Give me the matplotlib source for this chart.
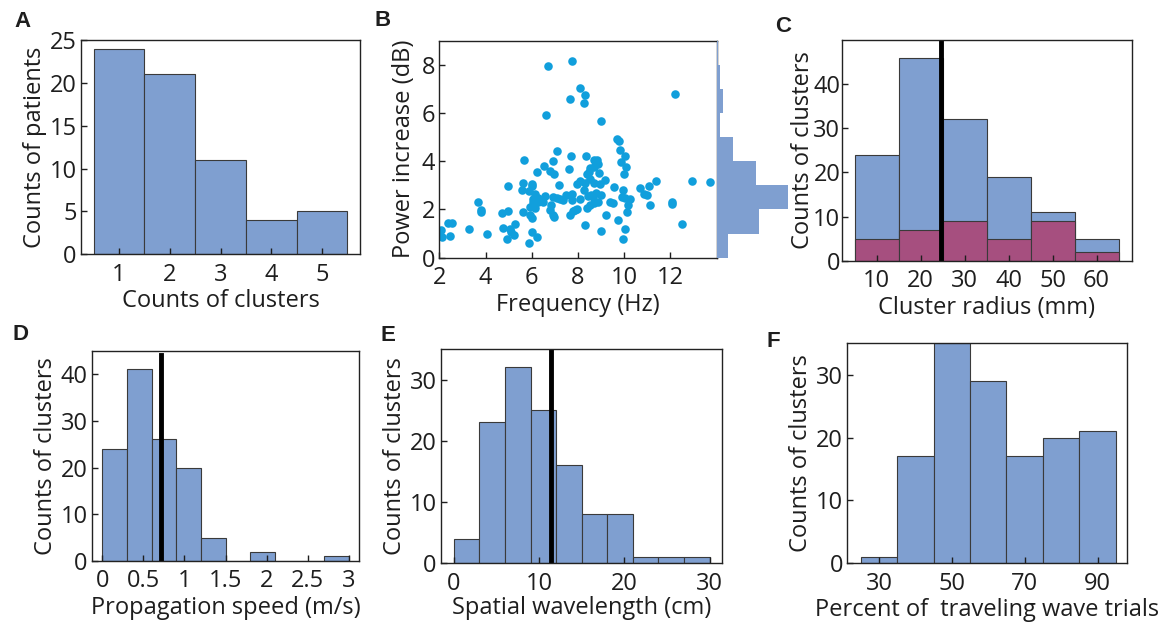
import numpy as np
import matplotlib
matplotlib.use("Agg")
import matplotlib.pyplot as plt

plt.rcParams['font.family'] = ['Open Sans', 'DejaVu Sans']
plt.rcParams['font.size'] = 17
plt.rcParams['text.color'] = '#1e1e1e'
plt.rcParams['axes.labelcolor'] = '#1e1e1e'
plt.rcParams['xtick.color'] = '#1e1e1e'
plt.rcParams['ytick.color'] = '#1e1e1e'

# ---- data ----
# A
a_clusters = [1, 2, 3, 4, 5]
a_patients = [24, 21, 11, 4, 5]

# B  (frequency Hz, power increase dB)
b_freq = [2.13, 2.46, 4.05, 4.92, 5.24, 5.90, 6.22, 9.93,
          2.07, 2.36, 2.53, 3.29, 3.79, 3.80, 4.73, 4.75, 4.96, 5.08, 5.28, 5.10,
          5.62, 5.93, 6.00, 6.03, 6.94, 6.80, 6.97, 7.66, 7.77, 7.85, 8.29, 8.99,
          9.21, 9.72, 10.05, 10.12, 12.48,
          3.66, 4.96, 5.57, 5.90, 6.00, 6.15, 6.07, 6.29, 6.48, 5.93, 6.15, 6.05,
          6.25, 6.58, 6.92, 6.83, 7.23, 7.10, 7.36, 7.49, 7.74, 7.74, 7.95, 8.10,
          8.24, 8.45, 8.55, 8.65, 8.50, 8.70, 8.85, 8.40, 8.78, 9.00, 9.40, 9.52,
          9.93, 9.90, 10.02, 10.27, 10.17, 10.70, 10.84, 10.99, 11.13, 12.07, 12.07,
          11.06, 9.54,
          5.64, 6.02, 6.22, 6.55, 6.80, 6.97, 7.16, 7.59, 7.96, 8.10, 8.39, 8.32,
          8.46, 8.53, 8.53, 8.68, 8.68, 8.89, 8.97, 9.18, 9.98, 10.09, 9.88, 11.38,
          12.91, 13.73, 8.85,
          5.68, 6.94, 7.11, 7.70, 8.36, 8.68, 8.82, 9.69, 9.76, 9.80, 10.05,
          6.61, 9.00, 7.66, 8.32, 8.27, 12.19, 6.70, 8.10, 7.74]
b_power = [0.87, 0.90, 0.97, 0.77, 0.94, 0.60, 0.84, 0.77,
           1.14, 1.42, 1.42, 1.21, 1.99, 1.88, 1.86, 1.24, 1.94, 1.17, 1.39, 1.05,
           1.90, 1.77, 1.63, 1.08, 1.77, 1.97, 1.70, 1.77, 1.93, 1.97, 1.35, 1.12,
           1.77, 1.56, 1.19, 1.90, 1.38,
           2.32, 2.97, 2.80, 2.76, 2.98, 2.66, 2.29, 2.29, 2.29, 2.11, 2.07, 2.45,
           2.48, 2.55, 2.52, 2.18, 2.43, 2.46, 2.39, 2.59, 2.66, 2.39, 2.04, 2.43,
           2.80, 2.55, 2.62, 2.50, 2.20, 2.25, 2.30, 2.05, 2.70, 2.60, 2.30, 2.28,
           2.80, 2.50, 2.47, 2.43, 2.18, 2.91, 2.66, 2.59, 2.18, 2.33, 2.22,
           2.98, 2.94,
           3.08, 3.06, 3.56, 3.81, 3.60, 3.46, 3.01, 3.67, 3.04, 3.17, 3.49, 3.08,
           3.56, 3.70, 3.28, 3.77, 3.08, 3.53, 3.05, 3.21, 3.49, 3.77, 3.97, 3.17,
           3.17, 3.14, 3.87,
           4.06, 4.01, 4.41, 4.21, 4.22, 4.04, 4.07, 4.94, 4.84, 4.46, 4.22,
           5.90, 5.68, 6.58, 6.76, 6.41, 6.77, 7.97, 7.05, 8.15]
b_power_bins = [0, 1, 2, 3, 4, 5, 6, 7, 8, 9]

# C
c_edges = [5, 15, 25, 35, 45, 55, 65]
c_all = [24, 46, 32, 19, 11, 5]
c_sub = [5, 7, 9, 5, 9, 2]
c_median = 24.5

# D
d_edges = [0, 0.3, 0.6, 0.9, 1.2, 1.5, 1.8, 2.1, 2.4, 2.7, 3.0]
d_counts = [24, 41, 26, 20, 5, 0, 2, 0, 0, 1]
d_median = 0.71

# E
e_edges = [0, 3, 6, 9, 12, 15, 18, 21, 24, 27, 30]
e_counts = [4, 23, 32, 25, 16, 8, 8, 1, 1, 1]
e_median = 11.4

# F
f_edges = [25, 35, 45, 55, 65, 75, 85, 95]
f_counts = [1, 17, 35, 29, 17, 20, 21]

BLUE = '#7f9fd0'
RED = '#a64f7f'
DOT = '#119fdc'
EDGE = '#3a3a3a'

W, H = 1160, 629
fig = plt.figure(figsize=(W / 100, H / 100), dpi=100)


def px_axes(l, t, r, b):
    return fig.add_axes([l / W, 1 - b / H, (r - l) / W, (b - t) / H])


def style(ax):
    for s in ax.spines.values():
        s.set_linewidth(1.0)
        s.set_color('#222222')
    ax.tick_params(direction='in', length=4, width=1, top=False, right=False)
    ax.tick_params(axis='x', pad=6)
    ax.tick_params(axis='y', pad=3)


def bars(ax, edges, counts, color=BLUE):
    edges = np.array(edges, dtype=float)
    ax.bar(edges[:-1], counts, width=np.diff(edges), align='edge',
           color=color, edgecolor=EDGE, linewidth=0.8)


def letter(x, y, s):
    fig.text(x / W, 1 - y / H, s, fontsize=16, fontweight='bold',
             family=['Liberation Sans', 'DejaVu Sans'])


# ---- A ----
ax = px_axes(81, 40, 360, 254.3)
ax.bar(a_clusters, a_patients, width=1.0, color=BLUE, edgecolor=EDGE, linewidth=0.8)
ax.set_xlim(0.25, 5.75)
ax.set_ylim(0, 25)
ax.set_xticks(a_clusters)
ax.set_yticks([0, 5, 10, 15, 20, 25])
ax.set_xlabel('Counts of clusters', labelpad=2)
ax.set_ylabel('Counts of patients', labelpad=2)
style(ax)
letter(14, 27, 'A')

# ---- B ----
ax = px_axes(439.3, 40.7, 716.7, 257.7)
ax.scatter(b_freq, b_power, s=38, color=DOT, linewidths=0)
ax.set_xlim(2, 14)
ax.set_ylim(0, 9)
ax.set_xticks([2, 4, 6, 8, 10, 12])
ax.set_yticks([0, 2, 4, 6, 8])
ax.set_xlabel('Frequency (Hz)', labelpad=2)
ax.set_ylabel('Power increase (dB)', labelpad=4)
style(ax)
letter(375, 26, 'B')

hx = px_axes(716.7, 40.7, 788, 257.7)
cnt, _, _ = hx.hist(b_power, bins=b_power_bins, orientation='horizontal',
                    color=BLUE, edgecolor='none')
hx.set_xlim(0, cnt.max())
hx.set_ylim(0, 9)
hx.axis('off')

# ---- C ----
ax = px_axes(841.7, 40, 1131.7, 260.7)
bars(ax, c_edges, c_all)
bars(ax, c_edges, c_sub, RED)
ax.axvline(c_median, color='black', linewidth=3.5)
ax.set_xlim(2, 68)
ax.set_ylim(0, 50)
ax.set_xticks([10, 20, 30, 40, 50, 60])
ax.set_yticks([0, 10, 20, 30, 40])
ax.set_xlabel('Cluster radius (mm)', labelpad=2)
ax.set_ylabel('Counts of clusters', labelpad=-1)
style(ax)
ax.tick_params(axis='y', pad=1)
letter(775, 32, 'C')

# ---- D ----
ax = px_axes(91.7, 350.7, 359.3, 561)
bars(ax, d_edges, d_counts)
ax.plot([d_median, d_median], [0, 44], color='black', linewidth=3.5)
ax.set_xlim(-0.13, 3.13)
ax.set_ylim(0, 45)
ax.set_xticks([0, 0.5, 1, 1.5, 2, 2.5, 3])
ax.set_xticklabels(['0', '0.5', '1', '1.5', '2', '2.5', '3'])
ax.set_yticks([0, 10, 20, 30, 40])
ax.set_xlabel('Propagation speed (m/s)', labelpad=2)
ax.set_ylabel('Counts of clusters', labelpad=2)
style(ax)
letter(13, 340, 'D')

# ---- E ----
ax = px_axes(441, 349, 722.3, 563.3)
bars(ax, e_edges, e_counts)
ax.axvline(e_median, color='black', linewidth=3.5)
ax.set_xlim(-1.5, 31.5)
ax.set_ylim(0, 35)
ax.set_xticks([0, 10, 20, 30])
ax.set_yticks([0, 10, 20, 30])
ax.set_xlabel('Spatial wavelength (cm)', labelpad=0)
ax.set_ylabel('Counts of clusters', labelpad=2)
style(ax)
letter(380, 341, 'E')

# ---- F ----
ax = px_axes(847.3, 343.3, 1126.7, 563.3)
bars(ax, f_edges, f_counts)
ax.set_xlim(21.3, 98)
ax.set_ylim(0, 35)
ax.set_xticks([30, 50, 70, 90])
ax.set_yticks([0, 10, 20, 30])
ax.set_xlabel('Percent of  traveling wave trials', labelpad=2)
ax.set_ylabel('Counts of clusters', labelpad=2)
style(ax)
letter(767, 347, 'F')

fig.savefig('out.png', dpi=100)
